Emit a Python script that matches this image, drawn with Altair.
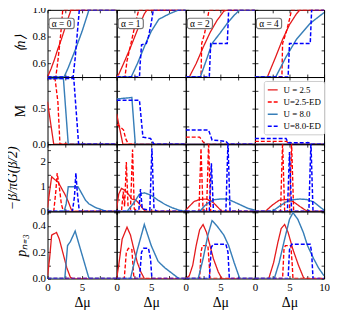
import altair as alt
import pandas as pd

SERIES = ["U = 2.5", "U=2.5-ED", "U = 8.0", "U=8.0-ED"]
COLORS = ["#e41a1c", "#ff0000", "#377eb8", "#0000ff"]
DASHES = [[1, 0], [4, 2], [1, 0], [4, 2]]
WIDTHS = [1.3, 1.5, 1.3, 1.5]
ALPHAS = ["α = 0", "α = 1", "α = 2", "α = 4"]
XTICKS = [0, 2.5, 5, 7.5, 10]
FONT = "Liberation Serif"

# ---- row 1: <n> ----
n_a0 = {
    "U = 2.5": ([0, 0.5, 1, 1.5, 2, 2.5, 3, 3.4, 10], [0.5, 0.56, 0.63, 0.71, 0.78, 0.86, 0.94, 1.0, 1.0]),
    "U=2.5-ED": ([0, 1.2, 1.5, 1.8, 2.0, 2.2, 10], [0.5, 0.5, 0.62, 0.76, 0.87, 1.0, 1.0]),
    "U = 8.0": ([0, 2.4, 3, 4, 5, 6, 10], [0.5, 0.5, 0.57, 0.7, 0.84, 1.0, 1.0]),
    "U=8.0-ED": ([0, 3.7, 4.0, 4.3, 4.6, 10], [0.5, 0.5, 0.64, 0.82, 1.0, 1.0]),
}
n_a1 = {
    "U = 2.5": ([0, 0.3, 1, 2, 3, 4, 4.4, 10], [0.5, 0.52, 0.6, 0.72, 0.85, 0.97, 1.0, 1.0]),
    "U=2.5-ED": ([0, 1.2, 1.5, 2.2, 2.8, 3.2, 10], [0.5, 0.5, 0.62, 0.78, 0.92, 1.0, 1.0]),
    "U = 8.0": ([0, 2.1, 3, 4.2, 5, 6.1, 7.6, 9, 10], [0.5, 0.5, 0.6, 0.75, 0.84, 0.93, 0.97, 1.0, 1.0]),
    "U=8.0-ED": ([0, 3.3, 3.4, 3.6, 4.3, 4.6, 5.0, 5.3, 10], [0.5, 0.5, 0.6, 0.74, 0.75, 0.8, 0.9, 1.0, 1.0]),
}
n_a2 = {
    "U = 2.5": ([0, 0.5, 1.5, 2.5, 3.5, 4.5, 5.5, 6, 10], [0.5, 0.5, 0.6, 0.72, 0.83, 0.92, 0.99, 1.0, 1.0]),
    "U=2.5-ED": ([0, 2.2, 2.3, 2.7, 3.0, 3.3, 3.5, 10], [0.5, 0.5, 0.75, 0.82, 0.9, 0.98, 1.0, 1.0]),
    "U = 8.0": ([0, 2.1, 3, 3.8, 5, 6, 7, 7.8, 10], [0.5, 0.5, 0.63, 0.75, 0.83, 0.9, 0.96, 1.0, 1.0]),
    "U=8.0-ED": ([0, 3.4, 3.6, 6.0, 6.2, 10], [0.5, 0.5, 0.75, 0.75, 1.0, 1.0]),
}
n_a4 = {
    "U = 2.5": ([0, 1.8, 3, 4, 5, 6, 6.5, 10], [0.5, 0.5, 0.65, 0.78, 0.89, 0.97, 1.0, 1.0]),
    "U=2.5-ED": ([0, 3.9, 4.0, 4.5, 5.0, 5.3, 10], [0.5, 0.5, 0.75, 0.83, 0.93, 1.0, 1.0]),
    "U = 8.0": ([0, 3.0, 4.5, 6, 8, 10], [0.5, 0.5, 0.65, 0.78, 0.9, 0.98]),
    "U=8.0-ED": ([0, 4.8, 5.0, 8.0, 8.2, 10], [0.5, 0.5, 0.75, 0.75, 1.0, 1.0]),
}

# ---- row 2: M ----
m_a0 = {
    "U = 2.5": ([0, 0.9, 10], [0.6, 0.0, 0.0]),
    "U=2.5-ED": ([0, 1.1, 1.5, 1.8, 10], [0.93, 0.92, 0.6, 0.0, 0.0]),
    "U = 8.0": ([0, 2.3, 3.0, 10], [0.93, 0.93, 0.0, 0.0]),
    "U=8.0-ED": ([0, 3.8, 4.5, 10], [0.93, 0.93, 0.0, 0.0]),
}
m_a1 = {
    "U = 2.5": ([0, 0.9, 10], [0.43, 0.0, 0.0]),
    "U=2.5-ED": ([0, 0.5, 1.0, 1.3, 1.7, 10], [0.28, 0.25, 0.2, 0.08, 0.0, 0.0]),
    "U = 8.0": ([0, 2.2, 2.7, 10], [0.64, 0.66, 0.0, 0.0]),
    "U=8.0-ED": ([0, 3.3, 3.8, 4.9, 5.4, 10], [0.62, 0.62, 0.1, 0.08, 0.0, 0.0]),
}
m_a2 = {
    "U = 2.5": ([0, 10], [0.0, 0.0]),
    "U=2.5-ED": ([0, 2.0, 2.6, 3.3, 10], [0.1, 0.1, 0.02, 0.0, 0.0]),
    "U = 8.0": ([0, 10], [0.0, 0.0]),
    "U=8.0-ED": ([0, 3.3, 3.8, 5.8, 6.2, 10], [0.2, 0.2, 0.06, 0.04, 0.0, 0.0]),
}
m_a4 = {
    "U = 2.5": ([0, 10], [0.0, 0.0]),
    "U=2.5-ED": ([0, 4.6, 4.9, 10], [0.04, 0.04, 0.0, 0.0]),
    "U = 8.0": ([0, 10], [0.0, 0.0]),
    "U=8.0-ED": ([0, 4.5, 4.8, 8.0, 8.2, 10], [0.08, 0.08, 0.02, 0.02, 0.0, 0.0]),
}

# ---- row 3: -beta/pi G(beta/2) ----
g_a0 = {
    "U = 2.5": ([0, 0.3, 0.6, 1.0, 1.5, 2.0, 2.5, 3.0, 3.4, 3.7, 10], [0.15, 0.8, 1.4, 1.3, 1.2, 0.95, 0.7, 0.4, 0.1, 0.0, 0.0]),
    "U=2.5-ED": ([0, 0.9, 1.2, 1.4, 1.7, 2.0, 2.3, 10], [0, 0, 0.8, 1.55, 1.0, 0.3, 0, 0]),
    "U = 8.0": ([0, 2.4, 2.7, 3.0, 4.4, 5.0, 5.5, 6.0, 7.0, 8.0, 8.5, 10], [0, 0, 0.3, 1.0, 1.0, 0.7, 0.45, 0.3, 0.15, 0.05, 0, 0]),
    "U=8.0-ED": ([0, 3.6, 3.9, 4.1, 4.3, 4.6, 10], [0, 0, 0.6, 1.55, 0.8, 0, 0]),
}
g_a1 = {
    "U = 2.5": ([0, 0.3, 0.7, 1.2, 1.7, 2.2, 2.8, 3.3, 3.8, 4.2, 10], [0.1, 0.7, 0.93, 0.85, 0.7, 0.5, 0.45, 0.3, 0.1, 0, 0]),
    "U=2.5-ED": ([0, 0.7, 0.95, 1.15, 1.4, 1.65, 2.0, 2.3, 2.55, 3.0, 10], [0, 0, 0.8, 0.2, 2.0, 0.2, 0.1, 2.5, 0.1, 0, 0]),
    "U = 8.0": ([0, 1.5, 2.5, 3.3, 4.0, 5.0, 6.0, 7.0, 8.0, 9.0, 10], [0, 0, 0.35, 0.7, 0.75, 0.65, 0.45, 0.28, 0.15, 0.05, 0]),
    "U=8.0-ED": ([0, 3.2, 3.45, 3.7, 4.8, 5.1, 5.4, 5.8, 10], [0, 0, 0.9, 0.1, 0.05, 2.55, 0.1, 0, 0]),
}
g_a2 = {
    "U = 2.5": ([0, 0.5, 1.2, 2.0, 3.0, 4.0, 4.7, 5.2, 10], [0.05, 0.2, 0.4, 0.48, 0.5, 0.35, 0.15, 0, 0]),
    "U=2.5-ED": ([0, 1.9, 2.2, 2.5, 3.0, 3.3, 3.6, 10], [0, 0, 2.55, 0, 0, 2.8, 0, 0]),
    "U = 8.0": ([0, 2.0, 3.0, 4.0, 5.0, 6.0, 7.0, 8.0, 9.0, 10], [0, 0, 0.3, 0.47, 0.5, 0.5, 0.38, 0.25, 0.12, 0.05]),
    "U=8.0-ED": ([0, 3.4, 3.7, 4.0, 5.8, 6.1, 6.4, 10], [0, 0, 1.95, 0, 0, 2.8, 0, 0]),
}
g_a4 = {
    "U = 2.5": ([0, 1.5, 2.5, 3.5, 4.5, 5.5, 6.5, 7.3, 7.8, 10], [0, 0, 0.25, 0.45, 0.48, 0.4, 0.2, 0.05, 0, 0]),
    "U=2.5-ED": ([0, 3.7, 4.0, 4.3, 5.0, 5.3, 5.6, 10], [0, 0, 2.8, 0, 0, 2.8, 0, 0]),
    "U = 8.0": ([0, 2.5, 3.5, 4.5, 5.5, 6.5, 7.5, 8.5, 9.3, 10], [0, 0, 0.2, 0.38, 0.47, 0.5, 0.48, 0.38, 0.2, 0.05]),
    "U=8.0-ED": ([0, 4.7, 5.0, 5.3, 7.8, 8.1, 8.4, 10], [0, 0, 2.4, 0, 0, 2.8, 0, 0]),
}

# ---- row 4: p_{n=3} ----
p_a0 = {
    "U = 2.5": ([0, 0.3, 0.6, 1.3, 1.7, 2.2, 2.8, 3.3, 3.6, 10], [0.02, 0.15, 0.33, 0.35, 0.3, 0.2, 0.08, 0.01, 0, 0]),
    "U=2.5-ED": ([0, 10], [0, 0]),
    "U = 8.0": ([0, 2.5, 2.9, 3.3, 4.0, 5.0, 6.0, 10], [0, 0, 0.25, 0.28, 0.36, 0.18, 0, 0]),
    "U=8.0-ED": ([0, 10], [0, 0]),
}
p_a1 = {
    "U = 2.5": ([0, 0.3, 0.8, 1.5, 2.0, 2.5, 3.0, 3.5, 4.0, 10], [0, 0.1, 0.3, 0.39, 0.33, 0.22, 0.12, 0.05, 0, 0]),
    "U=2.5-ED": ([0, 1.1, 1.4, 1.7, 2.2, 2.5, 10], [0, 0, 0.2, 0.23, 0.22, 0, 0]),
    "U = 8.0": ([0, 2.0, 3.0, 4.0, 5.0, 6.0, 7.0, 8.0, 9.0, 10], [0, 0, 0.22, 0.41, 0.25, 0.13, 0.08, 0.04, 0, 0]),
    "U=8.0-ED": ([0, 3.3, 3.6, 3.9, 4.6, 4.9, 5.1, 10], [0, 0, 0.2, 0.23, 0.23, 0.15, 0, 0]),
}
p_a2 = {
    "U = 2.5": ([0, 0.5, 1.0, 1.5, 2.0, 2.5, 3.0, 3.5, 4.0, 4.7, 5.2, 10], [0, 0.02, 0.1, 0.25, 0.37, 0.41, 0.35, 0.25, 0.15, 0.05, 0, 0]),
    "U=2.5-ED": ([0, 2.0, 2.2, 2.4, 3.2, 3.4, 3.5, 10], [0, 0, 0.2, 0.25, 0.25, 0.1, 0, 0]),
    "U = 8.0": ([0, 1.8, 2.5, 3.2, 3.8, 4.5, 5.5, 6.2, 7.0, 7.8, 10], [0, 0, 0.15, 0.33, 0.44, 0.4, 0.33, 0.25, 0.12, 0, 0]),
    "U=8.0-ED": ([0, 3.4, 3.7, 4.0, 5.8, 6.1, 6.3, 10], [0, 0, 0.24, 0.26, 0.26, 0.2, 0, 0]),
}
p_a4 = {
    "U = 2.5": ([0, 2.0, 2.7, 3.3, 3.8, 4.3, 4.8, 5.5, 6.3, 7.0, 7.2, 10], [0, 0, 0.12, 0.27, 0.38, 0.41, 0.35, 0.22, 0.1, 0.01, 0, 0]),
    "U=2.5-ED": ([0, 4.0, 4.2, 4.4, 5.2, 5.4, 5.5, 10], [0, 0, 0.22, 0.25, 0.25, 0.1, 0, 0]),
    "U = 8.0": ([0, 2.8, 3.5, 4.3, 5.0, 5.5, 6.2, 7.0, 7.6, 8.5, 9.2, 10], [0, 0, 0.12, 0.3, 0.45, 0.5, 0.45, 0.35, 0.25, 0.15, 0.08, 0.02]),
    "U=8.0-ED": ([0, 4.8, 5.0, 5.3, 8.0, 8.2, 8.4, 10], [0, 0, 0.22, 0.26, 0.26, 0.2, 0, 0]),
}

ROWS = [
    dict(data=[n_a0, n_a1, n_a2, n_a4], domain=[0.5, 1.0],
         ticks=[0.5, 0.6, 0.7, 0.8, 0.9, 1.0],
         expr="(round(datum.value*10) % 2 == 0) ? format(datum.value, '.1f') : ''",
         title="⟨n⟩", tx=-27, style="italic", tsize=14),
    dict(data=[m_a0, m_a1, m_a2, m_a4], domain=[0.0, 0.95],
         ticks=[0, 0.25, 0.5, 0.75],
         expr="(round(datum.value*4) % 2 == 0) ? format(datum.value, '.1f') : ''",
         title="M", tx=-27, style="normal", tsize=14),
    dict(data=[g_a0, g_a1, g_a2, g_a4], domain=[0.0, 2.72],
         ticks=[0, 0.5, 1, 1.5, 2, 2.5],
         expr="(datum.value % 1 == 0) ? format(datum.value, 'd') : ''",
         title="−β/πG(β/2)", tx=-35, style="italic", tsize=14),
    dict(data=[p_a0, p_a1, p_a2, p_a4], domain=[0.0, 0.51],
         ticks=[0, 0.1, 0.2, 0.3, 0.4, 0.5],
         expr="(round(datum.value*10) % 2 == 0) ? format(datum.value, '.1f') : ''",
         title="pₙ₌₃", tx=-26, style="italic", tsize=14),
]

W, H = 70, 68
TICK = {"expr": "-3"}

LEG = alt.Legend(orient="none", legendX=219, legendY=72, title=None,
                 labelFont=FONT, labelFontSize=9, labelColor="black",
                 symbolType="stroke", symbolSize=100, symbolStrokeWidth=1.5,
                 strokeColor="#cccccc", fillColor="white", padding=3,
                 cornerRadius=2, rowPadding=1.3, labelOffset=5)


def to_df(panel):
    rows = []
    for s in SERIES:
        xs, ys = panel[s]
        for i, (x, y) in enumerate(zip(xs, ys)):
            rows.append({"s": s, "x": x, "y": y, "i": i})
    return pd.DataFrame(rows)


def panel(r, c):
    spec = ROWS[r]
    df = to_df(spec["data"][c])
    last_row = r == 3
    first_col = c == 0
    xmax = 10.5 if c == 3 else 9
    xscale = alt.Scale(domain=[0, 10], nice=False, zero=False)
    yscale = alt.Scale(domain=spec["domain"], nice=False, zero=False)
    x_axis = alt.Axis(values=XTICKS, labels=last_row, tickSize=TICK,
                      labelExpr=f"(datum.value % 5 == 0 && datum.value < {xmax}) ? format(datum.value, 'd') : ''",
                      title="Δμ" if last_row else None, titleFontSize=14,
                      titleFontWeight="normal", titlePadding=3, labelPadding=6)
    y_axis = alt.Axis(values=spec["ticks"], labels=first_col, tickSize=TICK,
                      labelExpr=spec["expr"], labelPadding=5,
                      title=spec["title"] if first_col else None,
                      titleAngle=270, titleX=spec["tx"], titleY=H / 2,
                      titleAlign="center", titleBaseline="middle",
                      titleFontWeight="normal",
                      titleFontStyle=spec["style"], titleFontSize=spec["tsize"])
    lines = alt.Chart(df).mark_line(clip=True).encode(
        x=alt.X("x:Q", scale=xscale, axis=x_axis),
        y=alt.Y("y:Q", scale=yscale, axis=y_axis),
        color=alt.Color("s:N", scale=alt.Scale(domain=SERIES, range=COLORS), legend=LEG),
        strokeDash=alt.StrokeDash("s:N", scale=alt.Scale(domain=SERIES, range=DASHES), legend=LEG),
        strokeWidth=alt.StrokeWidth("s:N", scale=alt.Scale(domain=SERIES, range=WIDTHS), legend=None),
        order="i:Q",
    )
    frame = alt.Chart(df).mark_line(opacity=0).encode(
        x=alt.X("x:Q", scale=xscale,
                axis=alt.Axis(orient="top", values=XTICKS, labels=False, title=None, tickSize=TICK)),
        y=alt.Y("y:Q", scale=yscale,
                axis=alt.Axis(orient="right", values=spec["ticks"], labels=False, title=None, tickSize=TICK)),
        detail="s:N",
    )
    layers = [lines, frame]
    if r == 0:
        lab = pd.DataFrame({"t": [ALPHAS[c]]})
        box = alt.Chart(lab).mark_rect(fill="white", stroke="#777777", strokeWidth=1.2,
                                       cornerRadius=2.5).encode(
            x=alt.value(1.5), x2=alt.value(27), y=alt.value(8.5), y2=alt.value(19))
        txt = alt.Chart(lab).mark_text(font=FONT, fontSize=9.5, color="black",
                                       align="center", baseline="middle").encode(
            x=alt.value(14.2), y=alt.value(14.2), text="t:N")
        layers += [box, txt]
    return alt.layer(*layers).resolve_axis(x="independent", y="independent").properties(width=W, height=H)


panels = [panel(r, c) for r in range(4) for c in range(4)]

chart = (
    alt.concat(*panels, columns=4, spacing=0, bounds="flush")
    .resolve_scale(color="shared", strokeDash="shared", strokeWidth="shared")
    .properties(padding={"left": -3, "top": -7, "right": 0, "bottom": 0})
    .configure_view(stroke="black", strokeWidth=1)
    .configure_axis(labelFont=FONT, labelFontSize=11, labelColor="black",
                    titleFont=FONT, titleFontWeight="normal", titleColor="black",
                    tickColor="black", tickWidth=0.8, domain=False, grid=False,
                    labelFlush=False, labelOverlap=False)
)

chart.save("out.html", embed_options={"renderer": "svg", "actions": False})
